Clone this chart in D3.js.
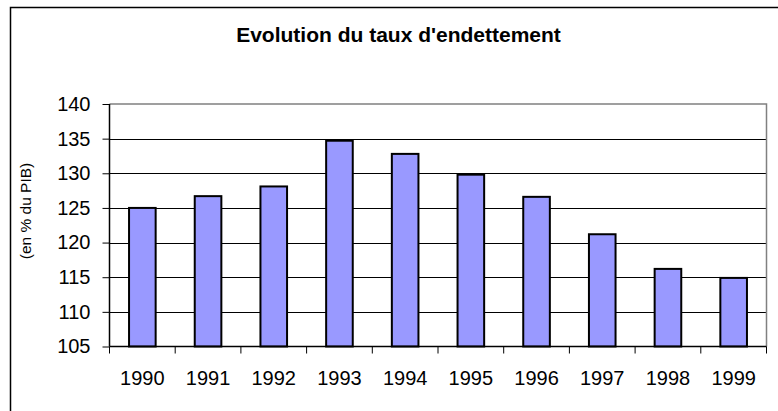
<!DOCTYPE html>
<html>
<head>
<meta charset="utf-8">
<script src="https://cdn.jsdelivr.net/npm/d3@7"></script>
<style>
	body { margin: 0; background: #fff; }
	svg text { font-family: "Liberation Sans", Arial, sans-serif; fill: #000; }
</style>
</head>
<body>
<svg id="chart" width="778" height="411"></svg>
<script>
// Data:
var years = ["1990", "1991", "1992", "1993", "1994", "1995", "1996", "1997", "1998", "1999"];
var debtRatio = [125.0, 126.7, 128.1, 134.7, 132.8, 129.8, 126.6, 121.2, 116.2, 114.9];
var yTicks = [105, 110, 115, 120, 125, 130, 135, 140];

var svg = d3.select("#chart");

// Plot area (note: "top" is taken by window.top, so prefix the names)
var plotLeft = 109.5, plotRight = 766.5, plotTop = 104, plotBottom = 346.5;

// Outer chart frame (runs off the page at right and bottom):
svg.append("rect")
	.attr("x", 10.5).attr("y", 7.5)
	.attr("width", 800).attr("height", 440)
	.attr("fill", "#fff")
	.attr("stroke", "#000")
	.attr("stroke-width", 1.5);

var x = d3.scaleBand().domain(years).range([plotLeft, plotRight]).padding(0);
var y = d3.scaleLinear().domain([105, 140]).range([plotBottom, plotTop]);

// Gridlines:
svg.append("g")
	.selectAll("line")
	.data(yTicks.filter(function(d) { return d > 105 && d < 140; }))
	.enter().append("line")
	.attr("x1", plotLeft).attr("x2", plotRight)
	.attr("y1", function(d) { return Math.round(y(d)) + 0.5; })
	.attr("y2", function(d) { return Math.round(y(d)) + 0.5; })
	.attr("stroke", "#000")
	.attr("stroke-width", 1);

// Plot area border, grey on top and right:
svg.append("path")
	.attr("d", "M" + plotLeft + "," + plotTop + "H" + plotRight + "V" + plotBottom)
	.attr("fill", "none")
	.attr("stroke", "#808080")
	.attr("stroke-width", 1.5);

// Bars:
var barWidth = x.bandwidth() * 0.405;
svg.append("g")
	.selectAll("rect")
	.data(years)
	.enter().append("rect")
	.attr("x", function(d) { return x(d) + (x.bandwidth() - barWidth) / 2; })
	.attr("y", function(d, i) { return y(debtRatio[i]); })
	.attr("width", barWidth)
	.attr("height", function(d, i) { return y(105) - y(debtRatio[i]); })
	.attr("fill", "#9999ff")
	.attr("stroke", "#000")
	.attr("stroke-width", 2);

// Y axis:
var yAxis = svg.append("g")
	.attr("transform", "translate(" + plotLeft + ",0)")
	.call(d3.axisLeft(y).tickValues(yTicks).tickSize(7).tickPadding(12).tickFormat(d3.format("d")));
yAxis.select(".domain").attr("stroke", "#000").attr("stroke-width", 1.5)
	.attr("d", "M0," + plotTop + "V" + plotBottom);
yAxis.selectAll(".tick line").attr("stroke", "#000");
yAxis.selectAll("text").style("font-size", "20px").attr("fill", "#000");

// X axis (ticks between categories):
var xAxis = svg.append("g")
	.attr("transform", "translate(0," + plotBottom + ")");
xAxis.append("line")
	.attr("x1", plotLeft).attr("x2", plotRight)
	.attr("stroke", "#000").attr("stroke-width", 1.5);
xAxis.selectAll(".xtick")
	.data(years.concat(["end"]))
	.enter().append("line")
	.attr("x1", function(d, i) { return i < years.length ? x(d) : plotRight; })
	.attr("x2", function(d, i) { return i < years.length ? x(d) : plotRight; })
	.attr("y1", 0).attr("y2", 7)
	.attr("stroke", "#000");
xAxis.selectAll(".xlabel")
	.data(years)
	.enter().append("text")
	.attr("x", function(d) { return x(d) + x.bandwidth() / 2; })
	.attr("y", 38)
	.attr("text-anchor", "middle")
	.style("font-size", "20px")
	.text(function(d) { return d; });

// Title:
svg.append("text")
	.attr("x", 398.5).attr("y", 41.5)
	.attr("text-anchor", "middle")
	.style("font-size", "21px")
	.style("font-weight", "bold")
	.text("Evolution du taux d'endettement");

// Y axis title:
svg.append("text")
	.attr("transform", "translate(31,211)rotate(-90)")
	.attr("text-anchor", "middle")
	.style("font-size", "15.5px")
	.text("(en % du PIB)");
</script>
</body>
</html>
